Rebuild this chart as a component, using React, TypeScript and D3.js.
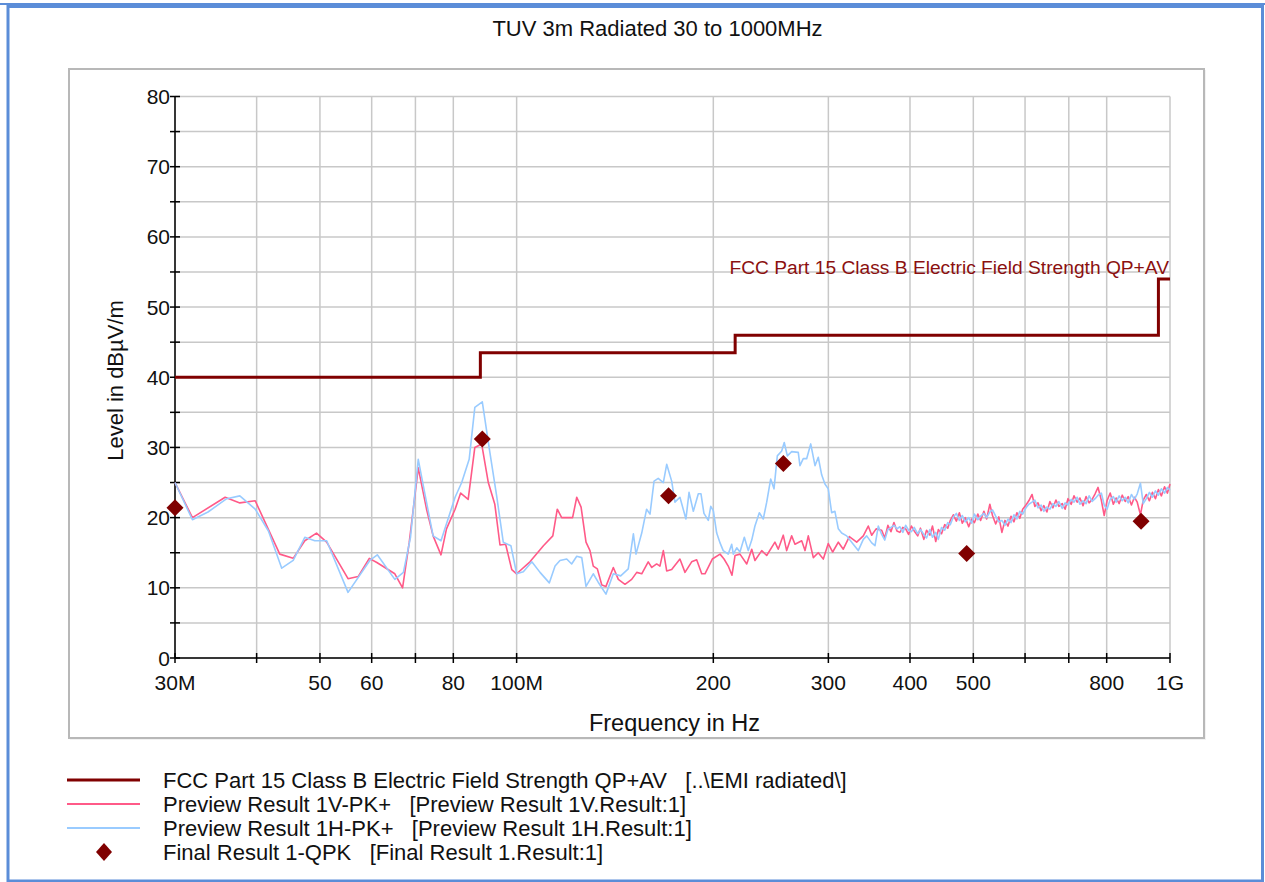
import React from "react";
import * as d3 from "d3";

// ---------- data ----------
const TITLE = "TUV 3m Radiated 30 to 1000MHz";
const X_LABEL = "Frequency in Hz";
const Y_LABEL = "Level in dBµV/m";
const LIMIT_LABEL = "FCC Part 15 Class B Electric Field Strength QP+AV";

const xGridFreqs = [30, 40, 50, 60, 70, 80, 100, 200, 300, 400, 500, 600, 700, 800, 1000];
const xTickLabels: [number, string][] = [
  [30, "30M"], [50, "50"], [60, "60"], [80, "80"], [100, "100M"],
  [200, "200"], [300, "300"], [400, "400"], [500, "500"], [800, "800"], [1000, "1G"],
];
const yGridLevels = [0, 5, 10, 15, 20, 25, 30, 35, 40, 45, 50, 55, 60, 65, 70, 75, 80];
const yTickLabels = [0, 10, 20, 30, 40, 50, 60, 70, 80];

// limit line steps [freq MHz, level]
const limitSteps: [number, number][] = [[30, 40], [88, 43.5], [216, 46], [960, 54], [1000, 54]];

// Final QPK results [freq MHz, level]
const finalQPK: [number, number][] = [
  [30, 21.4], [88.6, 31.2], [170.8, 23.1], [256, 27.7], [488.5, 14.9], [903, 19.5],
];

// Preview 1V (sparse part) [freq MHz, level]
const previewV_low: [number, number][] = [
  [30.0, 25.0], [31.9, 20.0], [35.8, 22.9], [37.7, 22.1], [39.8, 22.4], [43.4, 14.8], [45.5, 14.2],
  [47.4, 16.7], [49.4, 17.8], [51.2, 16.5], [55.2, 11.3], [57.2, 11.6], [59.5, 14.2], [61.1, 13.6],
  [65.1, 12.0], [66.9, 10.0], [68.5, 16.5], [70.7, 27.1], [72.8, 21.2], [74.5, 17.4], [76.6, 14.7],
  [78.1, 18.4], [80.5, 21.2], [82.1, 23.5], [84.3, 22.6], [86.3, 30.0], [88.4, 30.5], [90.5, 25.0],
  [92.6, 21.9], [94.3, 16.1], [96.2, 16.2], [98.3, 12.6], [100.0, 12.0], [104.8, 13.7], [109.9, 16.0],
  [113.6, 17.4], [115.4, 21.2], [117.2, 20.0], [121.8, 20.0], [123.6, 22.9], [125.5, 21.5], [127.7, 16.5],
  [129.5, 15.3], [131.0, 13.1], [132.9, 12.7], [135.0, 10.4], [137.0, 10.2], [140.6, 12.9], [143.1, 11.2],
  [146.5, 10.5], [150.0, 11.2], [152.7, 12.2], [155.4, 12.0], [159.0, 13.7], [161.0, 12.9], [163.8, 13.4],
  [165.7, 13.1], [167.7, 15.3], [169.7, 12.4], [172.7, 12.6], [177.8, 14.1], [181.0, 12.2], [185.3, 13.7],
  [188.6, 14.0], [192.0, 12.0], [194.2, 12.0], [199.3, 14.1], [204.8, 14.8], [207.7, 14.1], [210.8, 13.1],
  [213.6, 11.8], [215.9, 14.6], [219.7, 14.8], [225.0, 13.4], [229.0, 15.5], [231.6, 13.9], [237.2, 15.3],
  [241.4, 14.6], [248.5, 16.5], [251.4, 15.5], [255.9, 17.5], [259.0, 15.3], [263.6, 17.4], [266.7, 16.2],
  [273.1, 16.7], [276.3, 15.3], [279.5, 17.4], [284.5, 14.3], [289.5, 15.0], [294.7, 14.1], [299.9, 16.3],
  [304.6, 15.1], [310.7, 16.5], [316.2, 15.5], [323.0, 17.3], [331.5, 16.5], [339.3, 17.4], [345.3, 18.8],
  [349.5, 17.5], [355.0, 18.4],
];

// Preview 1H (sparse part)
const previewH_low: [number, number][] = [
  [30.0, 25.0], [31.9, 19.7], [33.7, 20.8], [36.0, 22.7], [37.7, 23.1], [39.8, 21.2], [41.7, 18.1],
  [43.7, 12.8], [45.5, 13.9], [47.4, 17.2], [49.1, 16.7], [51.2, 16.7], [55.2, 9.35], [59.6, 13.9],
  [61.2, 14.7], [65.1, 11.2], [67.1, 12.2], [68.8, 17.2], [70.7, 28.3], [72.4, 23.3], [74.5, 17.4],
  [76.6, 16.7], [80.5, 22.9], [82.4, 25.0], [84.6, 28.3], [86.3, 35.7], [88.6, 36.5], [91.0, 29.3],
  [93.2, 23.1], [95.4, 16.5], [98.0, 16.0], [100.0, 12.0], [102.4, 12.3], [105.5, 13.7], [108.6, 12.2],
  [112.2, 10.7], [114.5, 13.1], [116.5, 13.9], [119.3, 14.1], [121.4, 13.4], [123.6, 14.5], [125.8, 14.3],
  [127.7, 10.2], [131.0, 12.0], [133.3, 10.8], [137.0, 9.1], [140.6, 12.0], [144.3, 11.7], [148.2, 12.7],
  [150.9, 17.7], [152.3, 14.8], [155.4, 17.8], [158.1, 21.2], [160.0, 20.5], [162.3, 25.2], [164.7, 25.6],
  [167.7, 25.0], [169.7, 27.6], [172.7, 25.2], [174.7, 22.2], [177.8, 22.9], [181.6, 19.8], [183.6, 23.6],
  [186.4, 20.9], [189.7, 23.4], [191.5, 23.4], [193.5, 20.6], [196.5, 19.6], [198.2, 21.6], [200.0, 21.0],
  [202.4, 17.8], [204.8, 16.4], [207.1, 15.3], [210.8, 14.8], [213.4, 16.2], [214.6, 14.8], [217.2, 15.7],
  [219.7, 15.1], [223.1, 17.2], [226.2, 15.3], [229.0, 16.8], [231.6, 18.8], [235.2, 20.7], [238.5, 19.8],
  [241.4, 22.2], [244.8, 25.5], [247.7, 24.1], [250.6, 28.8], [254.5, 29.5], [256.8, 30.7], [259.6, 28.8],
  [263.6, 29.4], [269.8, 29.3], [271.4, 27.4], [274.6, 28.4], [277.9, 28.4], [281.9, 30.5], [286.2, 27.4],
  [289.5, 28.6], [293.0, 26.1], [296.4, 24.8], [299.9, 24.1], [303.5, 20.7], [307.0, 20.9], [310.7, 18.4],
  [314.4, 17.8], [320.0, 17.4], [327.5, 16.2], [333.3, 15.3], [339.3, 16.9], [343.4, 17.4], [349.5, 16.4],
  [353.6, 16.0], [357.7, 18.8],
];

// Dense sweep part (shared frequencies)
const denseFreq = [
  362, 366, 370, 374, 378, 382, 386, 390, 394, 398, 402, 406, 411, 415, 420, 424, 429, 433, 438, 442,
  447, 452, 457, 461, 466, 471, 476, 481, 486, 492, 497, 502, 508, 513, 519, 524, 530, 535, 541, 547,
  553, 559, 565, 571, 577, 583, 589, 595, 602, 608, 615, 621, 628, 635, 641, 648, 655, 662, 669, 676,
  684, 691, 698, 706, 713, 721, 728, 736, 744, 752, 760, 768, 776, 785, 793, 801, 810, 819, 827, 836,
  845, 854, 863, 873, 882, 891, 901, 910, 920, 930, 940, 950, 960, 970, 981, 991, 1000,
];
const denseLevelV = [
  18.2, 17.1, 18.9, 18.0, 19.3, 18.1, 17.9, 18.6, 18.4, 17.6, 18.8, 18.1, 17.4, 18.5, 16.9, 18.2, 17.5, 18.8, 16.6, 18.3,
  17.7, 19.0, 18.5, 19.6, 20.4, 19.5, 20.7, 19.2, 20.0, 18.7, 19.8, 19.3, 20.5, 19.6, 20.9, 19.8, 21.9, 20.3, 19.1, 20.1,
  17.9, 19.6, 18.8, 20.2, 19.4, 20.7, 19.9, 21.2, 21.8, 22.4, 23.3, 21.6, 22.1, 21.0, 21.7, 20.8, 22.3, 21.4, 22.5, 21.6,
  22.0, 21.2, 22.7, 21.9, 23.1, 22.2, 22.8, 21.7, 23.0, 22.1, 22.6, 23.4, 24.3, 22.5, 20.3, 22.4, 23.5, 21.9, 22.8, 22.0,
  23.2, 22.3, 23.0, 21.8, 22.9, 22.2, 20.4, 22.5, 23.3, 22.4, 23.6, 22.7, 24.0, 23.1, 24.4, 23.5, 24.8,
];
const denseLevelH = [
  17.6, 16.8, 18.3, 18.6, 18.9, 18.4, 18.7, 17.9, 18.9, 18.2, 18.0, 18.6, 17.7, 18.3, 17.6, 17.1, 18.3, 17.2, 17.9, 16.9,
  18.6, 18.2, 19.3, 19.0, 20.1, 20.6, 19.6, 20.3, 19.4, 20.0, 19.2, 20.5, 19.7, 20.2, 20.6, 20.0, 20.8, 21.1, 20.2, 19.4,
  19.6, 18.9, 19.8, 19.3, 20.4, 19.8, 20.9, 20.5, 21.4, 21.9, 22.2, 22.5, 21.4, 21.8, 20.9, 21.5, 21.2, 22.0, 21.6, 22.3,
  21.3, 22.1, 21.8, 22.6, 22.2, 22.9, 21.9, 22.4, 22.0, 23.1, 22.3, 22.7, 23.2, 23.5, 21.8, 21.2, 22.6, 23.0, 22.2, 23.1,
  22.4, 22.9, 22.1, 23.3, 22.6, 23.4, 24.9, 22.0, 22.7, 23.6, 22.9, 23.8, 23.2, 24.1, 23.5, 24.3, 23.9,
];

const legendItems = [
  { label: "FCC Part 15 Class B Electric Field Strength QP+AV   [..\\EMI radiated\\]", kind: "limit" },
  { label: "Preview Result 1V-PK+   [Preview Result 1V.Result:1]", kind: "v" },
  { label: "Preview Result 1H-PK+   [Preview Result 1H.Result:1]", kind: "h" },
  { label: "Final Result 1-QPK   [Final Result 1.Result:1]", kind: "qpk" },
];

// ---------- styles ----------
const FONT = "'Liberation Sans', Arial, sans-serif";
const C_LIMIT = "#800000";
const C_V = "#ff5a88";
const C_H = "#99cbff";
const C_GRID = "#c8c8c8";
const C_FRAME = "#5b8dd8";

export default function App() {
  const W = 1265, H = 882;
  const x = d3.scaleLog().domain([30, 1000]).range([175, 1170]);
  const y = d3.scaleLinear().domain([0, 80]).range([658, 96.5]);

  const line = d3.line<[number, number]>().x(d => x(d[0])).y(d => y(d[1]));
  const stepLine = d3.line<[number, number]>().x(d => x(d[0])).y(d => y(d[1])).curve(d3.curveStepAfter);

  const seriesV: [number, number][] = [...previewV_low, ...denseFreq.map((f, i) => [f, denseLevelV[i]] as [number, number])];
  const seriesH: [number, number][] = [...previewH_low, ...denseFreq.map((f, i) => [f, denseLevelH[i]] as [number, number])];

  const [x0, x1] = x.range();
  const [yb, yt] = y.range();

  const diamond = (cx: number, cy: number, rx: number, ry: number) =>
    `M${cx},${cy - ry}L${cx + rx},${cy}L${cx},${cy + ry}L${cx - rx},${cy}Z`;

  return (
    <svg width={W} height={H} style={{ position: "absolute", left: 0, top: 0, background: "#fff" }} fontFamily={FONT}>
      <rect x={0} y={0} width={W} height={H} fill="#fff" />
      {/* outer frame */}
      <line x1={0} x2={W} y1={4} y2={4} stroke={C_FRAME} strokeWidth={2} />
      <rect x={8} y={6.5} width={1254.5} height={874.5} fill="none" stroke={C_FRAME} strokeWidth={3} />

      {/* title */}
      <text x={657.5} y={36} textAnchor="middle" fontSize={22} fill="#111">{TITLE}</text>

      {/* plot panel */}
      <rect x={70} y={70} width={1136} height={670} fill="#f2f2f2" />
      <rect x={69} y={69} width={1135} height={669} fill="#fff" stroke="#b8b8b8" strokeWidth={2} />

      {/* grid */}
      {yGridLevels.map(v => (
        <line key={"gy" + v} x1={x0} x2={x1} y1={y(v)} y2={y(v)} stroke={C_GRID} strokeWidth={1.5} />
      ))}
      {xGridFreqs.map(f => (
        <line key={"gx" + f} x1={x(f)} x2={x(f)} y1={yt} y2={yb} stroke={C_GRID} strokeWidth={1.5} />
      ))}

      {/* axes */}
      <line x1={x0} x2={x0} y1={yt} y2={yb} stroke="#000" strokeWidth={1.5} />
      <line x1={x0} x2={x1} y1={yb} y2={yb} stroke="#000" strokeWidth={1.5} />
      {yGridLevels.map(v => (
        <line key={"ty" + v} x1={x0 - 5} x2={x0 + 5} y1={y(v)} y2={y(v)} stroke="#000" strokeWidth={1.5} />
      ))}
      {xGridFreqs.map(f => (
        <line key={"tx" + f} x1={x(f)} x2={x(f)} y1={yb - 5} y2={yb + 5} stroke="#000" strokeWidth={1.5} />
      ))}
      {yTickLabels.map(v => (
        <text key={"ly" + v} x={x0 - 5} y={y(v) + 7.5} textAnchor="end" fontSize={21} fill="#111">{v}</text>
      ))}
      {xTickLabels.map(([f, s]) => (
        <text key={"lx" + f} x={x(f)} y={690} textAnchor="middle" fontSize={21} fill="#111">{s}</text>
      ))}

      {/* axis titles */}
      <text x={674.5} y={731} textAnchor="middle" fontSize={23.5} fill="#111">{X_LABEL}</text>
      <text transform={`translate(123,380.5) rotate(-90)`} textAnchor="middle" fontSize={22} fill="#111">{Y_LABEL}</text>

      {/* data */}
      <path d={line(seriesV) || ""} fill="none" stroke={C_V} strokeWidth={1.6} strokeLinejoin="round" />
      <path d={line(seriesH) || ""} fill="none" stroke={C_H} strokeWidth={1.6} strokeLinejoin="round" />
      <path d={stepLine(limitSteps) || ""} fill="none" stroke={C_LIMIT} strokeWidth={3} />
      <text x={x(1000) - 1} y={y(54) - 5} textAnchor="end" fontSize={19.2} fill="#8b1010">{LIMIT_LABEL}</text>
      {finalQPK.map(([f, v], i) => (
        <path key={"q" + i} d={diamond(x(f), y(v), 8.5, 8.5)} fill={C_LIMIT} />
      ))}

      {/* legend */}
      {legendItems.map((it, i) => {
        const ly = 780 + i * 24;
        return (
          <g key={"lg" + i}>
            {it.kind === "limit" && <line x1={67} x2={140} y1={ly} y2={ly} stroke={C_LIMIT} strokeWidth={3} />}
            {it.kind === "v" && <line x1={67} x2={140} y1={ly} y2={ly} stroke={C_V} strokeWidth={2} />}
            {it.kind === "h" && <line x1={67} x2={140} y1={ly} y2={ly} stroke={C_H} strokeWidth={2} />}
            {it.kind === "qpk" && <path d={diamond(104, ly, 8, 9)} fill={C_LIMIT} />}
            <text x={163} y={ly + 8} fontSize={22} fill="#111" style={{ whiteSpace: "pre" }}>{it.label}</text>
          </g>
        );
      })}
    </svg>
  );
}
